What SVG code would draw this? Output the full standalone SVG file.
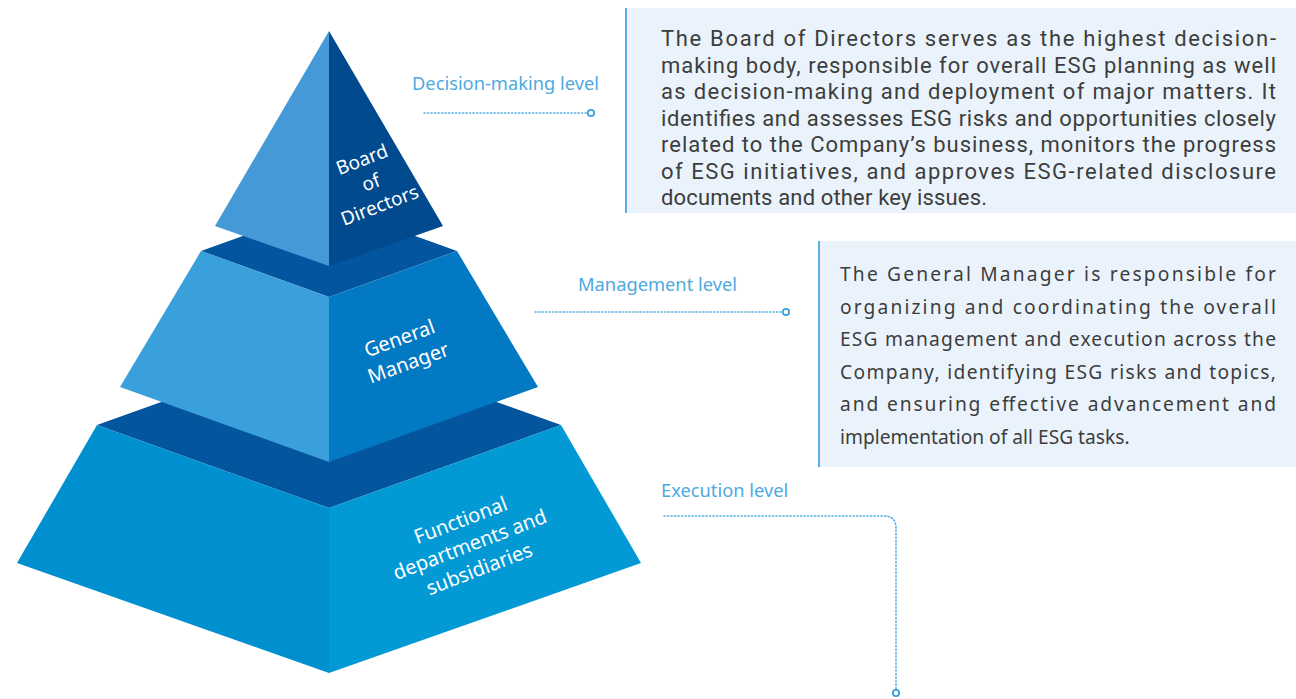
<svg xmlns="http://www.w3.org/2000/svg" width="1296" height="699" viewBox="0 0 1296 699">
<style>
.lbl{font-family:"Noto Sans","Open Sans",sans-serif;font-size:18.3px;fill:#4ea9e0}
.face{font-family:"Noto Sans","Open Sans",sans-serif;font-size:20px;fill:#ffffff;text-anchor:middle}
.small{font-size:19px}
.body1{font-family:Roboto,"Liberation Sans",sans-serif;font-size:22px;fill:#3d3d3d}
.body2{font-family:"Noto Sans","Open Sans",sans-serif;font-size:19.2px;fill:#3d3d3d}
.dot{fill:none;stroke:#5aafe4;stroke-width:1.6;stroke-dasharray:1.2 2.3;stroke-linecap:round}
.end{fill:#ffffff;stroke:#3d9fdc;stroke-width:1.8}
.box{fill:#eaf3fb}
.bar{stroke:#5aaee3;stroke-width:2}
</style>

<g id="tier-bottom">
  <polygon points="97,425 329,342 561,425 329,508" fill="#03559e"/>
  <polygon points="97,425 329,508 329,673 17,563" fill="#0190cf"/>
  <polygon points="329,508 561,425 641,563 329,673" fill="#0399d4"/>
  <g transform="translate(470,545) rotate(-21)">
    <text class="face" x="0" y="-19.5">Functional</text>
    <text class="face" x="0" y="6.5">departments and</text>
    <text class="face" x="0" y="32.5">subsidiaries</text>
  </g>
</g>

<g id="tier-middle">
  <polygon points="201,251 329,205 457,251 329,297" fill="#04559f"/>
  <polygon points="201,251 329,297 329,462 120,387" fill="#3aa0db"/>
  <polygon points="329,297 457,251 538,387 329,462" fill="#0279c2"/>
  <g transform="translate(404,351) rotate(-20)">
    <text class="face" x="0" y="-6.5">General</text>
    <text class="face" x="0" y="19.5">Manager</text>
  </g>
</g>

<g id="tier-top">
  <polygon points="329,31 329,266 215,226" fill="#4499d6"/>
  <polygon points="329,31 443,226 329,266" fill="#024a8e"/>
  <g transform="translate(371,183) rotate(-21)">
    <text class="face small" x="0" y="-18.5">Board</text>
    <text class="face small" x="0" y="6">of</text>
    <text class="face small" x="0" y="30.5">Directors</text>
  </g>
</g>

<g id="connectors">
  <path class="dot" d="M424,113 H587"/>
  <circle class="end" cx="591" cy="113" r="3.2"/>
  <path class="dot" d="M535,312 H782"/>
  <circle class="end" cx="786" cy="312" r="3.2"/>
  <path class="dot" d="M664,516 H884 Q896,516 896,528 V689"/>
  <circle class="end" cx="896" cy="693" r="3.2"/>
</g>

<g id="level-labels">
  <text class="lbl" x="412" y="90">Decision-making level</text>
  <text class="lbl" x="578" y="291">Management level</text>
  <text class="lbl" x="661" y="497">Execution level</text>
</g>

<g id="desc-board">
  <rect class="box" x="625" y="8" width="671" height="205"/>
  <line class="bar" x1="626" y1="8" x2="626" y2="213"/>
  <text class="body1" x="661" y="46" textLength="615" lengthAdjust="spacing">The Board of Directors serves as the highest decision-</text>
  <text class="body1" x="661" y="72.5" textLength="615" lengthAdjust="spacing">making body, responsible for overall ESG planning as well</text>
  <text class="body1" x="661" y="99" textLength="615" lengthAdjust="spacing">as decision-making and deployment of major matters. It</text>
  <text class="body1" x="661" y="125.5" textLength="615" lengthAdjust="spacing">identifies and assesses ESG risks and opportunities closely</text>
  <text class="body1" x="661" y="152" textLength="615" lengthAdjust="spacing">related to the Company’s business, monitors the progress</text>
  <text class="body1" x="661" y="178.5" textLength="615" lengthAdjust="spacing">of ESG initiatives, and approves ESG-related disclosure</text>
  <text class="body1" x="661" y="205" textLength="326" lengthAdjust="spacing">documents and other key issues.</text>
</g>

<g id="desc-gm">
  <rect class="box" x="818" y="241" width="478" height="226"/>
  <line class="bar" x1="819" y1="241" x2="819" y2="467"/>
  <text class="body2" x="840" y="281" textLength="436" lengthAdjust="spacing">The General Manager is responsible for</text>
  <text class="body2" x="840" y="313.5" textLength="436" lengthAdjust="spacing">organizing and coordinating the overall</text>
  <text class="body2" x="840" y="346" textLength="436" lengthAdjust="spacing">ESG management and execution across the</text>
  <text class="body2" x="840" y="378.5" textLength="436" lengthAdjust="spacing">Company, identifying ESG risks and topics,</text>
  <text class="body2" x="840" y="411" textLength="436" lengthAdjust="spacing">and ensuring effective advancement and</text>
  <text class="body2" x="840" y="443.5">implementation of all ESG tasks.</text>
</g>
</svg>
